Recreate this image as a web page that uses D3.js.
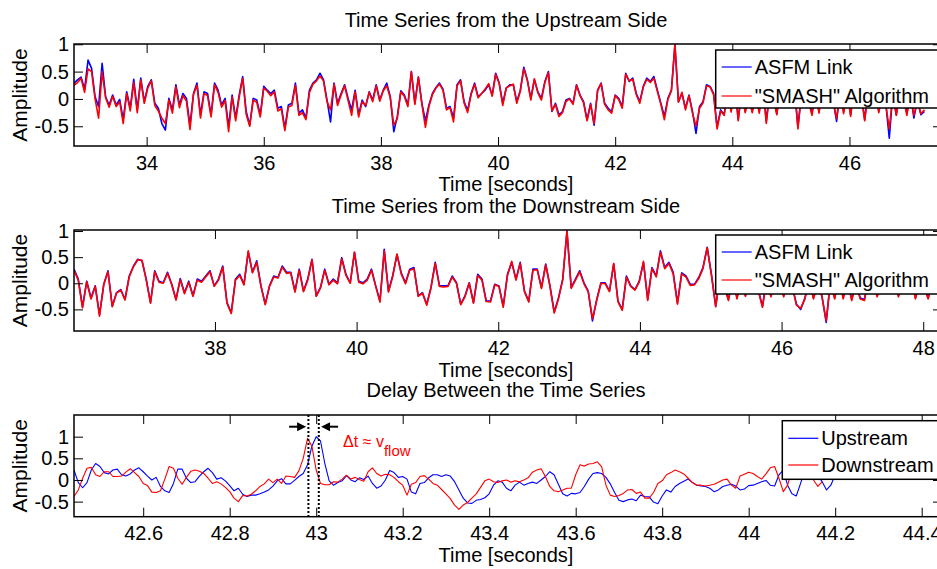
<!DOCTYPE html>
<html>
<head>
<meta charset="utf-8">
<script src="https://cdn.jsdelivr.net/npm/d3@7"></script>
<style>
  body { margin: 0; background: #fff; }
  svg { display: block; font-family: "Liberation Sans", Arial, sans-serif; }
</style>
</head>
<body>
<svg id="chart" width="937" height="569"></svg>
<script>
// ---- data ----
// upstream side, sampled every 0.06 s from 32.76 s
const upStart = 32.76, upStep = 0.06;
const upAsfm = [
  0.29,0.35,0.40,0.18,0.71,0.56,0.04,-0.14,0.65,0.04,
  -0.11,0.07,-0.11,-0.01,-0.38,0.13,-0.17,0.36,-0.2,0.38,
  -0.05,0.23,0.35,-0.08,-0.17,-0.45,-0.57,0.01,-0.2,0.26,
  -0.11,0.1,0.01,-0.48,0.1,0.29,-0.29,0.13,0.1,-0.29,
  0.29,0.16,-0.11,0.01,-0.51,0.07,-0.35,0.07,0.41,-0.23,
  -0.48,0.01,-0.02,-0.29,0.23,0.16,0.1,0.16,-0.17,-0.14,
  -0.54,-0.11,-0.08,0.29,-0.26,-0.2,-0.35,0.16,0.29,0.35,
  0.47,0.35,-0.02,-0.42,0.29,-0.08,0.1,0.26,0.01,-0.2,
  0.16,-0.29,-0.02,-0.14,0.13,-0.02,0.26,-0.02,0.16,0.29,
  0.04,-0.6,-0.32,0.15,0.07,-0.11,0.5,-0.08,0.4,-0.08,
  -0.4,-0.11,0.1,0.21,0.29,0.18,-0.17,-0.14,-0.35,0.26,
  0.35,-0.05,-0.21,0.1,0.29,0.04,0.1,0.16,0.26,0.07,
  0.47,0.29,-0.08,0.2,0.26,0.26,-0.05,0.16,0.58,0.35,
  0.01,0.35,0.13,0.01,0.32,0.5,-0.23,-0.08,-0.29,-0.23,
  -0.02,0.01,-0.08,0.26,0.07,-0.05,-0.38,-0.08,-0.48,0.16,
  0.29,-0.08,-0.17,-0.23,0.07,0.01,-0.14,0.47,0.32,0.38,
  0.1,-0.05,0.23,0.38,0.32,0.41,0.16,-0.08,-0.32,0.01,
  0.16,0.99,-0.05,0.1,-0.17,0.07,-0.23,-0.63,-0.14,-0.05,
  0.26,0.23,0.1,-0.51,-0.2,-0.29,0.16,-0.21,0.35,-0.38,
  0.16,-0.23,0.04,-0.23,0.1,-0.23,0.29,-0.41,0.16,0.04,
  -0.27,0.23,-0.02,0.16,-0.08,0.23,-0.51,0.1,0.29,-0.02,
  -0.27,0.16,-0.23,0.23,0.04,0.29,-0.02,-0.41,0.16,-0.23,
  0.16,-0.29,0.23,0.04,0.1,-0.38,0.16,0.04,0.23,-0.23,
  0.1,-0.08,-0.72,0.1,-0.29,0.16,0.04,-0.26,0.1,-0.35,
  -0.02,-0.29,-0.23
];
const upSmash = [
  0.25,0.30,0.38,0.12,0.55,0.50,0.00,-0.35,0.50,0.02,
  -0.15,0.05,-0.14,-0.05,-0.45,0.10,-0.22,0.30,-0.25,0.35,
  -0.08,0.20,0.33,-0.12,-0.22,-0.35,-0.45,-0.02,-0.26,0.22,
  -0.16,0.06,-0.04,-0.56,0.08,0.25,-0.35,0.10,0.06,-0.33,
  0.26,0.12,-0.15,-0.03,-0.6,0.04,-0.4,0.03,0.38,-0.28,
  -0.5,-0.02,-0.06,-0.33,0.20,0.14,0.06,0.13,-0.22,-0.18,
  -0.58,-0.15,-0.12,0.25,-0.3,-0.25,-0.38,0.12,0.27,0.33,
  0.42,0.33,-0.05,-0.2,0.27,-0.12,0.07,0.24,-0.03,-0.3,
  0.13,-0.33,-0.05,-0.12,0.12,-0.05,0.24,-0.04,0.15,0.24,
  0.02,-0.48,-0.36,0.13,0.05,-0.14,0.5,-0.1,0.4,-0.1,
  -0.52,-0.14,0.08,0.2,0.27,0.16,-0.2,-0.16,-0.42,0.24,
  0.33,-0.07,-0.25,0.08,0.27,0.02,0.1,0.18,0.28,0.05,
  0.45,0.28,-0.12,0.2,0.24,0.27,-0.08,0.14,0.55,0.34,
  -0.02,0.37,0.11,-0.02,0.3,0.48,-0.22,-0.1,-0.32,-0.25,
  -0.05,0.0,-0.1,0.25,0.06,-0.07,-0.4,-0.1,-0.45,0.15,
  0.28,-0.1,-0.2,-0.26,0.06,-0.01,-0.17,0.45,0.33,0.36,
  0.08,-0.08,0.22,0.36,0.3,0.38,0.14,-0.1,-0.38,-0.01,
  0.15,1.0,-0.06,0.12,-0.2,0.06,-0.26,-0.5,-0.17,-0.07,
  0.24,0.22,0.08,-0.55,-0.22,-0.3,0.15,-0.24,0.33,-0.4,
  0.15,-0.25,0.03,-0.25,0.08,-0.26,0.28,-0.45,0.14,0.02,
  -0.29,0.22,-0.04,0.15,-0.1,0.22,-0.55,0.08,0.28,-0.04,
  -0.3,0.15,-0.26,0.22,0.02,0.28,-0.04,-0.36,0.15,-0.27,
  0.15,-0.32,0.22,0.02,0.08,-0.4,0.15,0.02,0.22,-0.25,
  0.08,-0.1,-0.55,0.08,-0.3,0.15,0.02,-0.3,0.08,-0.3,
  -0.04,-0.27,-0.2
];

// downstream side, sampled every 0.06 s from 36.01 s
const downStart = 36.01, downStep = 0.06;
const downAsfm = [
  0.27,0.08,-0.45,0.04,-0.28,-0.05,-0.6,-0.02,0.24,-0.44,
  -0.18,-0.12,-0.31,0.14,0.33,0.46,0.43,0.08,-0.37,0.24,
  0.04,0.01,0.21,-0.02,-0.31,0.09,-0.18,0.04,-0.24,0.08,
  0.04,0.14,0.24,-0.05,0.08,0.33,-0.37,-0.56,0.08,0.17,
  -0.02,0.6,0.21,0.43,-0.05,-0.4,-0.05,0.14,0.11,0.33,
  0.21,0.21,-0.15,0.27,-0.15,0.08,0.46,-0.24,-0.08,0.27,
  -0.02,0.08,0.01,0.49,0.17,0.01,0.59,0.04,0.01,0.08,
  0.27,-0.05,-0.34,0.65,-0.15,0.15,0.55,0.2,0.01,0.27,
  0.3,-0.24,-0.18,-0.4,-0.08,0.4,-0.05,-0.05,-0.05,0.14,
  0.01,-0.4,-0.24,0.01,-0.37,0.17,0.08,-0.34,-0.34,-0.02,
  -0.05,-0.44,0.17,0.4,0.08,0.4,-0.15,-0.34,0.27,0.27,
  -0.08,0.37,-0.05,-0.55,-0.28,0.08,1.0,-0.08,0.08,0.24,
  0.01,-0.15,-0.72,-0.31,0.01,0.01,-0.15,0.37,-0.34,-0.5,
  0.14,-0.05,-0.12,0.04,0.4,-0.31,0.3,0.14,0.62,0.3,
  0.4,0.21,-0.38,0.2,0.14,-0.02,-0.02,0.11,0.3,0.69,
  0.17,-0.44,0.14,-0.05,-0.31,0.14,-0.28,0.08,-0.24,0.14,
  0.01,-0.12,-0.44,0.08,-0.24,0.14,0.01,-0.24,0.14,-0.05,
  -0.4,-0.5,-0.28,0.08,-0.28,0.01,-0.24,-0.75,0.05,-0.28,
  0.14,-0.28,0.08,-0.31,0.01,-0.28,-0.31,0.14,0.01,-0.24,
  0.08,0.01,-0.05,0.14,-0.24,0.08,-0.05,0.14,-0.28,0.08,
  -0.05,-0.28,0.08
];
const downSmash = [
  0.25,0.06,-0.47,0.03,-0.3,-0.06,-0.63,-0.03,0.22,-0.45,
  -0.19,-0.13,-0.32,0.12,0.32,0.45,0.44,0.06,-0.38,0.22,
  0.02,0.0,0.19,-0.03,-0.32,0.07,-0.2,0.02,-0.25,0.06,
  0.02,0.12,0.22,-0.06,0.06,0.31,-0.38,-0.58,0.06,0.15,
  -0.03,0.62,0.2,0.4,-0.06,-0.41,-0.06,0.12,0.1,0.31,
  0.19,0.2,-0.17,0.25,-0.16,0.06,0.45,-0.25,-0.09,0.25,
  -0.03,0.06,-0.01,0.47,0.15,0.0,0.6,0.02,-0.01,0.06,
  0.25,-0.06,-0.36,0.62,-0.17,0.13,0.56,0.18,-0.01,0.25,
  0.28,-0.25,-0.19,-0.42,-0.09,0.38,-0.06,-0.07,-0.06,0.12,
  0.0,-0.41,-0.26,0.0,-0.38,0.15,0.06,-0.35,-0.36,-0.03,
  -0.06,-0.46,0.15,0.42,0.06,0.38,-0.16,-0.36,0.25,0.26,
  -0.1,0.35,-0.06,-0.57,-0.3,0.06,1.0,-0.1,0.06,0.22,
  -0.01,-0.16,-0.68,-0.33,0.0,-0.01,-0.16,0.38,-0.35,-0.52,
  0.12,-0.06,-0.13,0.02,0.42,-0.33,0.28,0.12,0.6,0.28,
  0.38,0.18,-0.4,0.18,0.12,-0.04,-0.03,0.09,0.28,0.68,
  0.15,-0.45,0.12,-0.06,-0.33,0.12,-0.3,0.06,-0.25,0.12,
  0.0,-0.14,-0.46,0.06,-0.26,0.12,0.0,-0.26,0.12,-0.06,
  -0.42,-0.48,-0.3,0.06,-0.3,0.0,-0.26,-0.72,0.03,-0.3,
  0.12,-0.3,0.06,-0.33,0.0,-0.3,-0.33,0.12,0.0,-0.26,
  0.06,0.0,-0.06,0.12,-0.26,0.06,-0.06,0.12,-0.3,0.06,
  -0.06,-0.3,0.06
];

// delay close-up, sampled every 0.01 s from 42.44 s
const delayStart = 42.44, delayStep = 0.01;
const delayUp = [
  0.23,-0.06,-0.18,-0.06,0.23,0.38,0.31,0.17,0.14,0.23,
  0.25,0.12,0.09,0.14,0.23,0.28,0.19,0.09,0,0.06,
  -0.15,-0.25,-0.29,-0.08,0.25,0.25,0.04,-0.06,-0.04,0.09,
  0.19,0.27,0.17,0.02,0.05,-0.02,-0.13,-0.25,-0.19,-0.33,
  -0.38,-0.35,-0.35,-0.32,-0.28,-0.23,-0.14,-0.02,0.03,-0.09,
  -0.09,-0.01,0.08,0.15,0.35,0.78,1.0,0.9,0.38,-0.02,
  -0.12,-0.06,-0.02,0.1,0,-0.04,0.05,0.01,0.09,-0.08,
  -0.19,-0.14,0,0.22,0.17,0.06,0.08,0.02,-0.28,-0.32,
  -0.08,-0.06,0.05,0.12,0.12,0.08,0.12,0.09,-0.04,-0.23,
  -0.42,-0.53,-0.54,-0.47,-0.45,-0.41,-0.32,-0.12,-0.02,-0.05,
  -0.19,-0.25,-0.12,-0.05,-0.12,-0.08,-0.05,-0.08,0,0.08,
  0.19,0.12,-0.1,-0.32,-0.37,-0.31,-0.32,-0.29,-0.15,0.02,
  0.15,0.17,0.15,0.06,-0.09,-0.29,-0.47,-0.5,-0.46,-0.44,
  -0.48,-0.35,-0.38,-0.39,-0.51,-0.55,-0.37,-0.23,-0.28,-0.15,
  -0.08,-0.03,0.02,-0.06,-0.12,-0.14,-0.15,-0.19,-0.27,-0.23,
  -0.15,-0.12,-0.1,-0.14,-0.23,-0.21,-0.13,-0.12,-0.08,-0.04,
  -0.01,-0.12,-0.14,0.12,0.23,-0.12,-0.32,-0.37,-0.08,0.23,
  0.31,0.19,0.09,-0.04,-0.23,-0.12,0.12
];
const delayDown = [
  -0.38,-0.23,0.04,0.27,0.29,0.12,0.08,0.19,0.19,0.08,
  0.08,0.09,0.18,0.26,0.17,0.08,-0.08,-0.13,-0.28,-0.29,
  -0.25,0.02,0.31,0.27,0.04,-0.1,0.06,0.2,0.23,0.2,
  0.15,0.04,-0.08,-0.04,-0.09,-0.17,-0.27,-0.42,-0.5,-0.36,
  -0.37,-0.33,-0.25,-0.15,-0.09,0.02,-0.06,0.02,-0.08,0.09,
  0.08,0.06,0.21,0.5,0.96,0.78,0.23,-0.08,-0.11,-0.11,
  -0.04,-0.05,0.02,0.11,0.02,0.06,0.01,-0.03,0.19,0.28,
  0.15,0.09,0.13,0.12,0.06,-0.04,-0.12,-0.35,-0.1,-0.06,
  0.08,0.1,0.02,-0.08,-0.12,-0.22,-0.32,-0.43,-0.58,-0.68,
  -0.58,-0.52,-0.42,-0.32,-0.17,-0.02,0.02,-0.04,-0.06,-0.02,
  0,-0.05,-0.02,-0.04,0,0.05,0.18,0.23,0.26,0.08,
  -0.15,-0.25,-0.27,-0.23,-0.19,-0.19,0.12,0.35,0.32,0.37,
  0.38,0.42,0.31,-0.12,-0.35,-0.38,-0.36,-0.31,-0.23,-0.22,
  -0.31,-0.28,-0.42,-0.42,-0.29,-0.08,-0.02,0.12,0.17,0.23,
  0.19,0.14,0.04,-0.06,-0.12,-0.12,-0.14,-0.12,-0.1,-0.05,
  0,0.02,-0.12,-0.19,0.09,0.13,0.18,0.15,0.08,0.02,
  0.14,0.28,0.31,0.04,-0.27,-0.12,0.23,0.31,0.15,0.19,
  0.15,0,-0.15,-0.04
];

// peak times marked by the dotted lines (downstream, upstream)
const peakTimes = [42.982, 43.006];

// tick labels
const upTicks = [34, 36, 38, 40, 42, 44, 46];
const downTicks = [38, 40, 42, 44, 46, 48];
const delayTicks = [42.6, 42.8, 43, 43.2, 43.4, 43.6, 43.8, 44, 44.2, 44.4];
const ampTicks = [-0.5, 0, 0.5, 1];

// ---- drawing ----
const svg = d3.select('#chart');
const FONT = '"Liberation Sans", Arial, sans-serif';
const left = 74, right = 942;
const fmt = d => String(d);

function series(start, step, values) {
  return values.map((v, i) => ({ t: start + i * step, v: v }));
}

function panel(opt) {
  let x = d3.scaleLinear().domain(opt.xDomain).range([left, right]);
  let y = d3.scaleLinear().domain(opt.yDomain).range([opt.bottom, opt.top]);

  svg.append('clipPath').attr('id', 'clip-' + opt.name)
    .append('rect')
      .attr('x', left).attr('y', opt.top)
      .attr('width', right - left).attr('height', opt.bottom - opt.top);

  let line = d3.line().x(d => x(d.t)).y(d => y(d.v));
  svg.append('g')
    .attr('clip-path', `url(#clip-${opt.name})`)
    .selectAll('path')
    .data(opt.lines)
    .enter()
    .append('path')
      .attr('d', d => line(d.data))
      .attr('fill', 'none')
      .attr('stroke', d => d.color)
      .attr('stroke-width', opt.lw)
      .attr('stroke-linejoin', 'round');

  // axes, ticks pointing inward on all four sides
  let axes = [
    svg.append('g').attr('transform', `translate(0,${opt.bottom})`)
      .call(d3.axisBottom(x).tickValues(opt.xTicks).tickSize(-9).tickSizeOuter(0).tickPadding(9.5).tickFormat(fmt)),
    svg.append('g').attr('transform', `translate(0,${opt.top})`)
      .call(d3.axisTop(x).tickValues(opt.xTicks).tickSize(-9).tickSizeOuter(0).tickFormat('')),
    svg.append('g').attr('transform', `translate(${left},0)`)
      .call(d3.axisLeft(y).tickValues(ampTicks).tickSize(-9).tickSizeOuter(0).tickPadding(5).tickFormat(fmt)),
    svg.append('g').attr('transform', `translate(${right},0)`)
      .call(d3.axisRight(y).tickValues(ampTicks).tickSize(-9).tickSizeOuter(0).tickFormat(''))
  ];
  axes.forEach(a => {
    a.attr('font-size', 20).attr('font-family', FONT);
    a.select('.domain').remove();
    a.selectAll('.tick line').attr('stroke', '#000').attr('stroke-width', 1);
    a.selectAll('.tick text').attr('fill', '#000');
  });

  svg.append('rect')
    .attr('x', left).attr('y', opt.top)
    .attr('width', right - left).attr('height', opt.bottom - opt.top)
    .attr('fill', 'none').attr('stroke', '#000').attr('stroke-width', 1.5);

  // title, x label, y label
  svg.append('text').attr('x', 506).attr('y', opt.titleY)
    .attr('text-anchor', 'middle').attr('font-size', 20).text(opt.title);
  svg.append('text').attr('x', 506).attr('y', opt.xlabelY)
    .attr('text-anchor', 'middle').attr('font-size', 20).text('Time [seconds]');
  svg.append('text')
    .attr('transform', `translate(27,${(opt.top + opt.bottom) / 2}) rotate(-90)`)
    .attr('text-anchor', 'middle').attr('font-size', 21).text('Amplitude');

  // legend box
  let lg = svg.append('g').attr('transform', `translate(${opt.legend.x},${opt.legend.y})`);
  lg.append('rect').attr('width', 300).attr('height', opt.legend.h)
    .attr('fill', '#fff').attr('stroke', '#000').attr('stroke-width', 1.5);
  opt.lines.forEach((s, i) => {
    let ly = opt.legend.rows[i];
    lg.append('line').attr('x1', 6).attr('x2', 36).attr('y1', ly).attr('y2', ly)
      .attr('stroke', s.color).attr('stroke-width', 1.2);
    lg.append('text').attr('x', 39).attr('y', ly).attr('dy', '0.36em')
      .attr('font-size', 20).text(s.label);
  });

  return { x, y };
}

panel({
  name: 'up', top: 44, bottom: 146,
  xDomain: [32.76, 47.58], yDomain: [-0.861, 1.005],
  xTicks: upTicks, lw: 1.6,
  title: 'Time Series from the Upstream Side', titleY: 27, xlabelY: 191,
  lines: [
    { label: 'ASFM Link', color: '#0000ff', data: series(upStart, upStep, upAsfm) },
    { label: '"SMASH" Algorithm', color: '#ff0000', data: series(upStart, upStep, upSmash) }
  ],
  legend: { x: 715.7, y: 50, h: 58, rows: [17, 46] }
});

panel({
  name: 'down', top: 230, bottom: 331,
  xDomain: [36.01, 48.265], yDomain: [-0.914, 1.02],
  xTicks: downTicks, lw: 1.6,
  title: 'Time Series from the Downstream Side', titleY: 213, xlabelY: 377,
  lines: [
    { label: 'ASFM Link', color: '#0000ff', data: series(downStart, downStep, downAsfm) },
    { label: '"SMASH" Algorithm', color: '#ff0000', data: series(downStart, downStep, downSmash) }
  ],
  legend: { x: 715.7, y: 235, h: 59, rows: [17, 45] }
});

let d = panel({
  name: 'delay', top: 415, bottom: 516.7,
  xDomain: [42.44, 44.447], yDomain: [-0.848, 1.5],
  xTicks: delayTicks, lw: 1.1,
  title: 'Delay Between the Time Series', titleY: 397, xlabelY: 562,
  lines: [
    { label: 'Upstream', color: '#0000ff', data: series(delayStart, delayStep, delayUp) },
    { label: 'Downstream', color: '#ff0000', data: series(delayStart, delayStep, delayDown) }
  ],
  legend: { x: 782.3, y: 420.7, h: 58.6, rows: [17.6, 44.3] }
});

// dotted markers at both peaks
svg.append('g').selectAll('line')
  .data(peakTimes)
  .enter()
  .append('line')
    .attr('x1', t => d.x(t)).attr('x2', t => d.x(t))
    .attr('y1', 415).attr('y2', 516.7)
    .attr('stroke', '#000').attr('stroke-width', 2)
    .attr('stroke-dasharray', '2,2');

// arrows pointing at the dotted lines
let ay = 426.7;
let xa = d.x(peakTimes[0]) - 2.3, xb = d.x(peakTimes[1]) + 2.3;
let arrows = svg.append('g');
arrows.append('line').attr('x1', xa - 17).attr('x2', xa - 6).attr('y1', ay).attr('y2', ay)
  .attr('stroke', '#000').attr('stroke-width', 2);
arrows.append('path').attr('d', `M${xa},${ay}L${xa - 9},${ay - 4.5}L${xa - 9},${ay + 4.5}Z`).attr('fill', '#000');
arrows.append('line').attr('x1', xb + 17).attr('x2', xb + 6).attr('y1', ay).attr('y2', ay)
  .attr('stroke', '#000').attr('stroke-width', 2);
arrows.append('path').attr('d', `M${xb},${ay}L${xb + 9},${ay - 4.5}L${xb + 9},${ay + 4.5}Z`).attr('fill', '#000');

let note = svg.append('text')
  .attr('x', xb + 22).attr('y', 447)
  .attr('font-size', 16).attr('fill', '#ff0000')
  .text('\u0394t \u2248 v');
note.append('tspan').attr('dy', 9).attr('font-size', 15).text('flow');
</script>
</body>
</html>
